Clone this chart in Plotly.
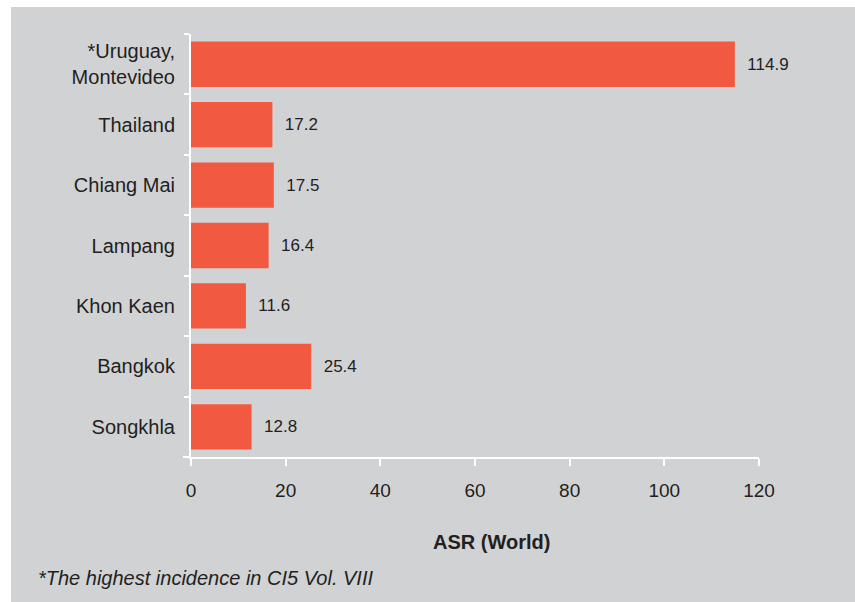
import plotly.graph_objects as go

categories = ["*Uruguay,<br>Montevideo", "Thailand", "Chiang Mai", "Lampang",
              "Khon Kaen", "Bangkok", "Songkhla"]
values = [114.9, 17.2, 17.5, 16.4, 11.6, 25.4, 12.8]
x_ticks = [0, 20, 40, 60, 80, 100, 120]

BG = "#d1d2d4"
BAR = "#f15a40"
TXT = "#231f20"
FONT = "Liberation Sans, Arial, sans-serif"

W, H = 855, 602
L, R, T, B = 191, 96, 34, 145
pw, ph = W - L - R, H - T - B

def px_to_paper_x(px):
    return (px - L) / pw

def px_to_paper_y(py):
    return (H - B - py) / ph

fig = go.Figure()
fig.add_trace(go.Bar(
    y=categories, x=values, orientation="h",
    marker=dict(color=BAR, line=dict(width=0)),
    width=0.75,
    text=[f"{v:.1f}" for v in values],
    texttemplate="  %{text}",
    textposition="outside",
    textfont=dict(family=FONT, size=17, color=TXT),
    cliponaxis=False,
    hoverinfo="skip",
))

fig.update_layout(
    width=W, height=H,
    margin=dict(l=L, r=R, t=T, b=B, pad=0),
    paper_bgcolor="white",
    plot_bgcolor=BG,
    showlegend=False,
    font=dict(family=FONT, color=TXT),
    xaxis=dict(
        range=[0, 120], tickvals=x_ticks, ticktext=[str(t) for t in x_ticks],
        showgrid=False, zeroline=False,
        showline=True, linecolor="white", linewidth=2,
        ticks="outside", tickcolor="white", ticklen=7, tickwidth=1.5,
        tickfont=dict(family=FONT, size=19, color=TXT),
        ticklabelstandoff=8,
    ),
    yaxis=dict(
        autorange="reversed",
        showgrid=False, zeroline=False,
        showline=True, linecolor="white", linewidth=2,
        ticks="outside", tickson="boundaries", tickcolor="white", ticklen=5, tickwidth=1.5,
        tickfont=dict(family=FONT, size=20, color=TXT),
        ticklabelstandoff=10,
    ),
    shapes=[
        dict(type="rect", xref="paper", yref="paper", layer="below",
             x0=px_to_paper_x(11), x1=px_to_paper_x(W + 2),
             y0=px_to_paper_y(H + 2), y1=px_to_paper_y(7),
             fillcolor=BG, line=dict(width=0)),
        dict(type="line", xref="paper", yref="paper", layer="above",
             x0=px_to_paper_x(L - 8), x1=0, y0=0, y1=0,
             line=dict(color="white", width=2)),
    ],
    annotations=[
        dict(text="<b>ASR (World)</b>", xref="paper", yref="paper",
             x=px_to_paper_x(491), y=px_to_paper_y(542),
             xanchor="center", yanchor="middle", showarrow=False,
             font=dict(family=FONT, size=20, color=TXT)),
        dict(text="<i>*The highest incidence in CI5 Vol. VIII</i>", xref="paper", yref="paper",
             x=px_to_paper_x(36), y=px_to_paper_y(578),
             xanchor="left", yanchor="middle", showarrow=False,
             font=dict(family=FONT, size=20, color=TXT)),
    ],
)

fig.write_html("out.html", config={"displayModeBar": False},
               post_script="document.body.style.margin='0';")
